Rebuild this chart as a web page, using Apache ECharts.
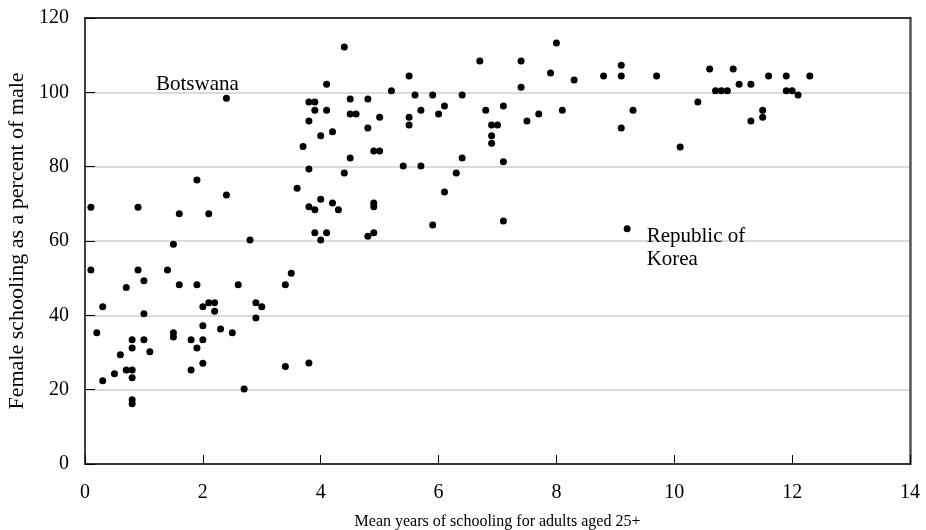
<!DOCTYPE html>
<html>
<head>
<meta charset="utf-8">
<title>Female schooling vs mean years of schooling</title>
<script src="https://cdn.jsdelivr.net/npm/echarts@6/dist/echarts.min.js"></script>
<style>
  html, body { margin: 0; padding: 0; background: #fff; }
  #chart { width: 926px; height: 530px; }
</style>
</head>
<body>
<div id="chart"></div>
<script>
// [mean years of schooling (adults 25+), female schooling as % of male]
const lowSchooling = [
  [0.1, 69.1], [1.9, 76.4], [2.4, 72.4], [0.9, 69.1], [1.6, 67.3], [2.1, 67.3],
  [2.8, 60.3], [1.5, 59.1], [0.1, 52.2], [0.9, 52.2], [1.4, 52.2], [1.0, 49.3],
  [0.7, 47.5], [1.6, 48.2], [1.9, 48.2], [2.6, 48.2], [0.3, 42.3], [2.0, 42.3],
  [2.1, 43.4], [2.2, 43.4], [2.2, 41.1], [2.9, 43.4], [3.0, 42.3], [2.9, 39.3],
  [1.0, 40.4], [0.2, 35.3], [1.5, 35.3], [1.5, 34.2], [2.0, 37.2], [2.3, 36.3],
  [2.5, 35.3], [0.8, 33.4], [1.0, 33.4], [1.8, 33.4], [2.0, 33.4], [0.8, 31.2],
  [1.9, 31.2], [1.1, 30.2], [0.6, 29.4], [2.0, 27.1], [0.7, 25.3], [0.8, 25.3],
  [1.8, 25.3], [0.5, 24.3], [0.8, 23.2], [0.3, 22.4], [2.7, 20.2], [0.8, 17.3],
  [0.8, 16.2]
];

const midSchooling = [
  [3.4, 48.2], [3.5, 51.3], [3.4, 26.2], [3.8, 27.2], [3.6, 74.2], [3.8, 79.4],
  [4.4, 78.3], [4.5, 82.3], [3.8, 69.2], [3.9, 68.4], [4.0, 71.2], [4.2, 70.2],
  [4.3, 68.4], [4.9, 70.2], [4.9, 69.2], [3.9, 62.2], [4.1, 62.2], [4.0, 60.3],
  [4.8, 61.3], [4.9, 62.2], [5.4, 80.2], [5.7, 80.2], [4.9, 84.2], [5.0, 84.2],
  [3.7, 85.4], [4.4, 112.2], [4.1, 102.2], [5.5, 104.4], [5.2, 100.4], [3.8, 97.4],
  [3.9, 97.4], [3.9, 95.2], [4.1, 95.2], [4.5, 98.2], [4.8, 98.2], [5.6, 99.3],
  [5.9, 99.3], [6.4, 99.3], [4.5, 94.2], [4.6, 94.2], [3.8, 92.3], [5.0, 93.3],
  [5.7, 95.2], [6.1, 96.3], [6.0, 94.2], [5.5, 93.3], [5.5, 91.2], [4.8, 90.4],
  [4.2, 89.4], [4.0, 88.3], [6.4, 82.3], [6.7, 108.4], [7.4, 108.4], [8.0, 113.3],
  [7.9, 105.2], [8.3, 103.3], [7.4, 101.4], [6.8, 95.2], [7.1, 96.3], [6.9, 91.2],
  [7.0, 91.2], [6.9, 88.3], [6.9, 86.3], [7.5, 92.3], [7.7, 94.2], [8.1, 95.2],
  [6.3, 78.3], [7.1, 81.3], [6.1, 73.2], [5.9, 64.3], [7.1, 65.4]
];

const highSchooling = [
  [8.8, 104.4], [9.1, 104.4], [9.1, 107.3], [9.7, 104.4], [9.3, 95.2], [9.1, 90.4],
  [10.1, 85.3], [10.4, 97.4], [10.6, 106.3], [11.0, 106.3], [10.7, 100.4], [10.8, 100.4],
  [10.9, 100.4], [11.1, 102.2], [11.3, 102.2], [11.3, 92.3], [11.5, 95.2], [11.5, 93.3],
  [11.6, 104.4], [11.9, 104.4], [12.3, 104.4], [11.9, 100.4], [12.0, 100.4], [12.1, 99.3]
];

// countries called out by name
const botswana = [2.4, 98.4];
const korea = [9.2, 63.3];

const xTicks = { min: 0, max: 14, interval: 2 };
const yTicks = { min: 0, max: 120, interval: 20 };

const serif = '"Liberation Serif", "DejaVu Serif", serif';

const chart = echarts.init(document.getElementById('chart'), null, { renderer: 'canvas' });

const labelText = { color: '#000', fontFamily: serif, fontSize: 21 };

const allPoints = lowSchooling.concat(midSchooling, highSchooling).map(p => ({ value: p }));
allPoints.push({
  value: botswana,
  label: Object.assign({
    show: true, formatter: 'Botswana', position: 'inside', offset: [-29, -14]
  }, labelText)
});
allPoints.push({
  value: korea,
  label: Object.assign({
    show: true, formatter: 'Republic of\nKorea', position: 'right', distance: 16,
    offset: [0, 19], align: 'left', lineHeight: 23
  }, labelText)
});

chart.setOption({
  animation: false,
  backgroundColor: '#fff',
  textStyle: { fontFamily: serif },
  grid: { left: 85, right: 16, top: 18, bottom: 66, containLabel: false, outerBoundsMode: 'none' },
  xAxis: [{
    type: 'value',
    min: xTicks.min, max: xTicks.max, interval: xTicks.interval,
    name: 'Mean years of schooling for adults aged 25+',
    nameLocation: 'middle', nameGap: 50,
    nameTextStyle: { color: '#000', fontSize: 16, fontFamily: serif },
    axisLine: { show: true, onZero: false, lineStyle: { color: '#000', width: 1.5 } },
    axisTick: { show: true, inside: true, length: 9, lineStyle: { color: '#000', width: 1 } },
    axisLabel: { color: '#000', fontSize: 20, fontFamily: serif, margin: 19 },
    splitLine: { show: false }
  }, {
    type: 'value', position: 'top',
    min: xTicks.min, max: xTicks.max, interval: xTicks.interval,
    axisLine: { show: true, onZero: false, lineStyle: { color: '#000', width: 1.5 } },
    axisTick: { show: false }, axisLabel: { show: false }, splitLine: { show: false }
  }],
  yAxis: [{
    type: 'value',
    min: yTicks.min, max: yTicks.max, interval: yTicks.interval,
    name: 'Female schooling as a percent of male',
    nameLocation: 'middle', nameGap: 55,
    nameTextStyle: { color: '#000', fontSize: 22, fontFamily: serif },
    axisLine: { show: true, onZero: false, lineStyle: { color: '#000', width: 1.5 } },
    axisTick: { show: true, inside: true, length: 10, lineStyle: { color: '#000', width: 1 } },
    axisLabel: { color: '#000', fontSize: 20, fontFamily: serif, margin: 16 },
    splitLine: { show: true, lineStyle: { color: '#cfcfcf', width: 1.5 } }
  }, {
    type: 'value', position: 'right',
    min: yTicks.min, max: yTicks.max, interval: yTicks.interval,
    axisLine: { show: true, onZero: false, lineStyle: { color: '#555', width: 2.5 } },
    axisTick: { show: false }, axisLabel: { show: false }, splitLine: { show: false }
  }],
  series: [{
    type: 'scatter',
    xAxisIndex: 0, yAxisIndex: 0,
    symbol: 'circle',
    symbolSize: 7,
    itemStyle: { color: '#000', opacity: 1 },
    emphasis: { disabled: true },
    data: allPoints
  }]
});
</script>
</body>
</html>
